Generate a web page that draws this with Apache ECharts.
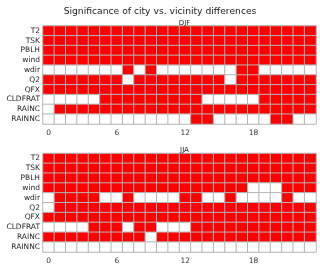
<!DOCTYPE html>
<html><head><meta charset="utf-8">
<script src="https://cdn.jsdelivr.net/npm/echarts@6/dist/echarts.min.js"></script>
<style>html,body{margin:0;padding:0;background:#fff}#c{width:320px;height:266px}</style>
</head><body><div id="c"></div>
<script>
const hours = [0,1,2,3,4,5,6,7,8,9,10,11,12,13,14,15,16,17,18,19,20,21,22,23];
const hourTicks = ['0','6','12','18'];
const variables = ['T2','TSK','PBLH','wind','wdir','Q2','QFX','CLDFRAT','RAINC','RAINNC'];
const seasons = ['DJF','JJA'];
const titleText = 'Significance of city vs. vicinity differences';

const djf = [
  [1,1,1,1,1,1,1,1,1,1,1,1,1,1,1,1,1,1,1,1,1,1,1,1],
  [1,1,1,1,1,1,1,1,1,1,1,1,1,1,1,1,1,1,1,1,1,1,1,1],
  [1,1,1,1,1,1,1,1,1,1,1,1,1,1,1,1,1,1,1,1,1,1,1,1],
  [1,1,1,1,1,1,1,1,1,1,1,1,1,1,1,1,1,1,1,1,1,1,1,1],
  [0,0,0,0,0,0,0,1,0,1,0,0,0,0,0,0,0,1,1,0,0,0,0,0],
  [1,1,1,1,1,1,1,0,1,1,1,1,1,1,1,1,0,1,1,1,1,1,1,1],
  [1,1,1,1,1,1,1,1,1,1,1,1,1,1,1,1,1,1,1,1,1,1,1,1],
  [0,0,0,0,0,1,1,1,1,1,1,1,1,1,0,0,0,0,0,1,1,1,1,1],
  [0,1,1,1,1,1,1,1,1,1,1,1,1,1,1,1,1,1,1,1,1,1,1,1],
  [0,0,0,0,0,0,0,0,0,0,0,0,0,1,1,0,0,0,0,0,1,1,0,0]
];
const jja = [
  [1,1,1,1,1,1,1,1,1,1,1,1,1,1,1,1,1,1,1,1,1,1,1,1],
  [1,1,1,1,1,1,1,1,1,1,1,1,1,1,1,1,1,1,1,1,1,1,1,1],
  [1,1,1,1,1,1,1,1,1,1,1,1,1,1,1,1,1,1,1,1,1,1,1,1],
  [1,1,1,1,1,1,1,1,1,1,1,1,1,1,1,1,1,1,0,0,0,1,1,1],
  [0,1,1,1,1,0,0,1,0,0,0,0,1,1,0,0,1,0,0,0,0,1,0,0],
  [0,1,1,1,1,1,1,1,1,1,1,1,1,1,1,1,1,1,1,1,1,1,1,1],
  [1,1,1,1,1,1,1,1,1,1,1,1,1,1,1,1,1,1,1,1,1,1,1,1],
  [0,0,0,0,1,1,1,0,1,1,0,0,0,1,1,1,1,1,1,1,1,1,1,1],
  [1,1,1,1,1,1,1,1,1,0,1,1,1,1,1,1,1,1,1,1,1,1,1,1],
  [0,0,0,0,0,0,0,0,0,0,0,0,0,0,0,0,0,0,0,0,0,0,0,0]
];

function toCells(rows){
  const out = [];
  rows.forEach((r, yi) => r.forEach((v, xi) => out.push([xi, yi, v])));
  return out;
}

const font = 'DejaVu Sans';
const grids = [
  {left:43, top:26, width:273, height:98},
  {left:43, top:153.5, width:273, height:98.5}
];
function xAx(i){
  return {type:'category', gridIndex:i, data:hours.map(String),
    axisLine:{show:false}, axisTick:{show:false}, splitLine:{show:false},
    axisLabel:{fontFamily:font, fontSize:7.5, color:'#333', margin:5,
      interval:0, formatter:v=>hourTicks.indexOf(v)>=0?v:''}};
}
function yAx(i){
  return {type:'category', gridIndex:i, data:variables, inverse:true,
    axisLine:{show:false}, axisTick:{show:false}, splitLine:{show:false},
    axisLabel:{fontFamily:font, fontSize:7.5, color:'#262626', margin:3, interval:0}};
}
const chart = echarts.init(document.getElementById('c'), null, {renderer:'canvas'});
chart.setOption({
  animation:false,
  backgroundColor:'#fff',
  title:[
    {text:titleText, left:'center', top:2, textStyle:{fontFamily:font, fontSize:9.2, fontWeight:'normal', color:'#222'}},
    {text:seasons[0], left:179.5, textAlign:'center', top:15, textStyle:{fontFamily:font, fontSize:7, fontWeight:'normal', color:'#222'}},
    {text:seasons[1], left:179.5, textAlign:'center', top:142, textStyle:{fontFamily:font, fontSize:7, fontWeight:'normal', color:'#222'}}
  ],
  grid:grids,
  xAxis:[xAx(0), xAx(1)],
  yAxis:[yAx(0), yAx(1)],
  visualMap:{show:false, type:'piecewise', dimension:2, seriesIndex:[0,1],
    pieces:[{value:1, color:'#ff0000'},{value:0, color:'#ffffff'}]},
  series:[
    {type:'heatmap', xAxisIndex:0, yAxisIndex:0, data:toCells(djf),
     itemStyle:{borderColor:'#b4b4b4', borderWidth:1}},
    {type:'heatmap', xAxisIndex:1, yAxisIndex:1, data:toCells(jja),
     itemStyle:{borderColor:'#b4b4b4', borderWidth:1}}
  ]
});
</script></body></html>
